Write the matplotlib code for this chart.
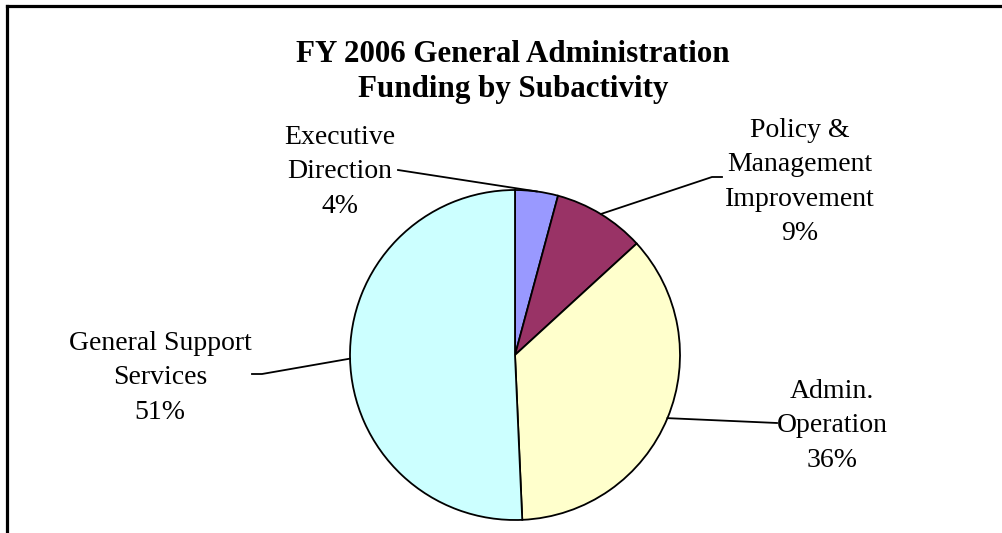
import numpy as np
import matplotlib
matplotlib.use("Agg")
import matplotlib.pyplot as plt

# data (start at 12 o'clock, clockwise)
names = ["Executive\nDirection", "Policy &\nManagement\nImprovement", "Admin.\nOperation", "General Support\nServices"]
shares = [4.2, 9.0, 36.1, 50.7]
pct_labels = ["4%", "9%", "36%", "51%"]
colors = ["#9999FF", "#993366", "#FFFFCC", "#CCFFFF"]

plt.rcParams['font.family'] = ['Liberation Serif', 'DejaVu Serif']

W, H = 1003, 533
fig = plt.figure(figsize=(W / 100, H / 100), dpi=100)
ax = fig.add_axes([0, 0, 1, 1])
ax.axis("off")

cx, cy, r = 515, H - 355, 165
wedges, _ = ax.pie(shares, colors=colors, startangle=90, counterclock=False,
                   center=(cx, cy), radius=r,
                   wedgeprops=dict(edgecolor="black", linewidth=1.3))
ax.set_xlim(0, W)
ax.set_ylim(0, H)
ax.set_aspect("auto")

# label text centre (x, y in pixels from top) and leader elbow points
label_pos = [(340, 172), (800, 182), (832, 426), (160, 378)]
leaders = [[(398, 170)], [(722, 177), (712, 177)], [(777, 423)], [(252, 374), (262, 374)]]

for w, name, pct, (tx, ty), pts in zip(wedges, names, pct_labels, label_pos, leaders):
    ax.text(tx, H - ty, name + "\n" + pct, ha="center", va="center",
            fontsize=20, linespacing=1.5)
    mid = np.deg2rad((w.theta1 + w.theta2) / 2)
    ex, ey = cx + r * np.cos(mid), cy + r * np.sin(mid)
    xs = [p[0] for p in pts] + [ex]
    ys = [H - p[1] for p in pts] + [ey]
    ax.plot(xs, ys, color="black", lw=1.3)

fig.text(513 / W, 1 - 72 / H, "FY 2006 General Administration\nFunding by Subactivity",
         ha="center", va="center", fontsize=22.3, fontweight="bold", linespacing=1.3)

# frame (only top and left edge visible in the crop)
fig.add_artist(plt.Line2D([7 / W, 7 / W], [0, 1 - 6 / H], color="black", lw=2.3))
fig.add_artist(plt.Line2D([7 / W, 1], [1 - 6 / H, 1 - 6 / H], color="black", lw=2.3))

fig.savefig("out.png", dpi=100)
